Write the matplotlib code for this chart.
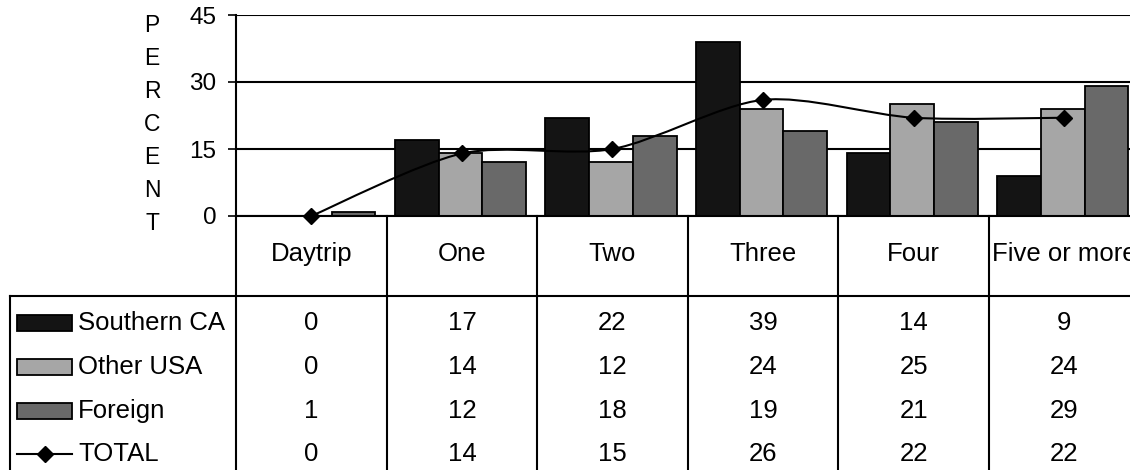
import numpy as np
import matplotlib
matplotlib.use("Agg")
import matplotlib.pyplot as plt
from matplotlib.path import Path
from matplotlib.patches import PathPatch, Rectangle
from matplotlib.transforms import blended_transform_factory

plt.rcParams['font.family'] = ['Liberation Sans', 'DejaVu Sans']

categories = ["Daytrip", "One", "Two", "Three", "Four", "Five or more"]
southern_ca = [0, 17, 22, 39, 14, 9]
other_usa = [0, 14, 12, 24, 25, 24]
foreign = [1, 12, 18, 19, 21, 29]
total = [0, 14, 15, 26, 22, 22]
y_ticks = [0, 15, 30, 45]

series_names = ["Southern CA", "Other USA", "Foreign"]
series_vals = [southern_ca, other_usa, foreign]
series_colors = ["#141414", "#a6a6a6", "#696969"]

W, H = 1130, 470
fig = plt.figure(figsize=(W / 100, H / 100), dpi=100)

# chart area (the last category runs past the right edge)
cat_w = 150.6
left_px, top_px, bottom_px = 236, 15, 216
ax = fig.add_axes([left_px / W, (H - bottom_px) / H,
                   6 * cat_w / W, (bottom_px - top_px) / H])
ax.set_xlim(0, len(categories))
ax.set_ylim(0, 45)

x = np.arange(len(categories)) + 0.5
bw = 0.29
for k, (vals, col) in enumerate(zip(series_vals, series_colors)):
    ax.bar(x + (k - 1) * bw - 0.01, vals, width=bw, color=col,
           edgecolor="black", linewidth=1.3, zorder=3)

ax.set_yticks(y_ticks)
ax.set_yticklabels([str(v) for v in y_ticks], fontsize=17.5)
ax.set_xticks([])
ax.tick_params(axis="y", direction="out", length=6, width=1.2, pad=8)
ax.yaxis.grid(True, color="black", linewidth=1.5, zorder=1)
ax.set_axisbelow(True)
for s in ["top", "right"]:
    ax.spines[s].set_visible(False)
ax.spines["left"].set_linewidth(1.5)
ax.spines["bottom"].set_linewidth(1.5)
ax.spines["left"].set_zorder(4)
ax.spines["bottom"].set_zorder(4)

# smoothed TOTAL line (Catmull-Rom style cubic Bezier segments)
pts = np.column_stack([x, np.array(total, dtype=float)])
verts = [tuple(pts[0])]
codes = [Path.MOVETO]
n = len(pts)
tension = 1 / 7.0
for i in range(n - 1):
    p0 = pts[i - 1] if i > 0 else pts[i]
    p1, p2 = pts[i], pts[i + 1]
    p3 = pts[i + 2] if i + 2 < n else pts[i + 1]
    c1 = p1 + (p2 - p0) * tension
    c2 = p2 - (p3 - p1) * tension
    verts += [tuple(c1), tuple(c2), tuple(p2)]
    codes += [Path.CURVE4] * 3
ax.add_patch(PathPatch(Path(verts, codes), fill=False, edgecolor="black",
                       linewidth=1.5, zorder=5, clip_on=False))
ax.plot(x, total, linestyle="none", marker="D", markersize=8,
        color="black", zorder=6, clip_on=False)

ax.set_ylabel("P\nE\nR\nC\nE\nN\nT", rotation=0, fontsize=16.5,
              linespacing=1.56, va="center", ha="center")
ax.yaxis.set_label_coords((152 - left_px) / (6 * cat_w), 0.455)

# data table under the chart, in pixel coordinates
tab = fig.add_axes([0, 0, 1, 1])
tab.set_xlim(0, W)
tab.set_ylim(H, 0)
tab.axis("off")
tr = blended_transform_factory(ax.transData, tab.transData)

line_kw = dict(color="black", linewidth=1.5, clip_on=False)
for k in range(len(categories) + 1):
    tab.plot([k, k], [bottom_px, H + 5], transform=tr, **line_kw)
tab.plot([10, W + 20], [296, 296], **line_kw)
tab.plot([10, 10], [296, H + 5], **line_kw)

fs = 18.5
header_y = 254
for xi, name in zip(x, categories):
    tab.text(xi, header_y, name, transform=tr, ha="center", va="center",
             fontsize=fs)

row_y = [323, 367, 411, 454]
rows = series_vals + [total]
for ry, vals in zip(row_y, rows):
    for xi, v in zip(x, vals):
        tab.text(xi, ry, str(v), transform=tr, ha="center", va="center",
                 fontsize=fs)

# legend keys in the first column
for ry, name, col in zip(row_y, series_names, series_colors):
    tab.add_patch(Rectangle((17, ry - 8), 55, 16, facecolor=col,
                            edgecolor="black", linewidth=1.3))
    tab.text(78, ry, name, ha="left", va="center", fontsize=fs)
tab.plot([17, 72], [row_y[3], row_y[3]], color="black", linewidth=1.5)
tab.plot([44.5], [row_y[3]], marker="D", markersize=8, color="black")
tab.text(78, row_y[3], "TOTAL", ha="left", va="center", fontsize=fs)

fig.savefig("out.png", dpi=100)
